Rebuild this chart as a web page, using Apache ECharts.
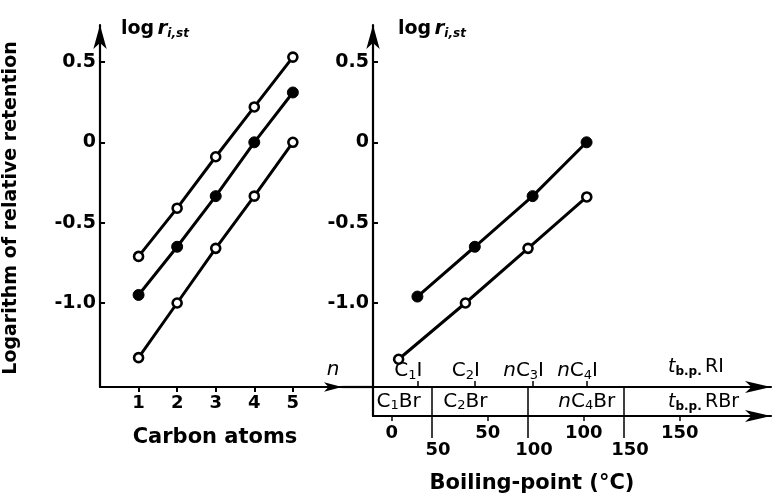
<!DOCTYPE html>
<html><head><meta charset="utf-8">
<script src="https://cdn.jsdelivr.net/npm/echarts@6/dist/echarts.min.js"></script>
<style>html,body{margin:0;padding:0;background:#fff}#c{width:783px;height:495px}</style>
</head><body><div id="c"></div>
<script>
// ---- data ----
const carbonAtoms = [1, 2, 3, 4, 5];
const logTopOpen = [-0.71, -0.41, -0.09, 0.22, 0.53];
const logMidFilled = [-0.95, -0.65, -0.335, 0.0, 0.31];
const logLowOpen = [-1.34, -1.0, -0.66, -0.335, 0.0];

const iodideNames = ['C1I', 'C2I', 'nC3I', 'nC4I'];
const iodideBp = [42.4, 72.3, 102.4, 130.5];
const iodideLog = [-0.96, -0.65, -0.335, 0.0];

const bromideNames = ['C1Br', 'C2Br', 'nC3Br', 'nC4Br'];
const bromideBp = [3.6, 38.4, 71.0, 101.6];
const bromideLog = [-1.35, -1.0, -0.66, -0.34];

const boxLabelNames = ['C1Br', 'C2Br', 'nC4Br'];
const boxLabelBp = [3.6, 38.4, 101.6];

const yTicks = [-1.0, -0.5, 0, 0.5];
const yTickLabels = ['-1.0', '-0.5', '0', '0.5'];
const nTicks = [1, 2, 3, 4, 5];
const nTickLabels = ['1', '2', '3', '4', '5'];
const rbrTicks = [0, 50, 100, 150];
const rbrTickLabels = ['0', '50', '100', '150'];
const riTicks = [50, 100, 150];
const riTickLabels = ['50', '100', '150'];

// ---- helpers ----
const FONT = 'DejaVu Sans';
function chem(name) {
  let out = '';
  for (const ch of name) {
    if (ch === 'n') out += '{i|n}';
    else if (/[0-9]/.test(ch)) out += '{s|' + ch + '}';
    else out += '{m|' + ch + '}';
  }
  return out;
}
const chemRich = {
  m: {fontFamily: FONT, fontSize: 20, color: '#000', lineHeight: 22},
  i: {fontFamily: FONT, fontSize: 20, fontStyle: 'italic', color: '#000', lineHeight: 22},
  s: {fontFamily: FONT, fontSize: 13, color: '#000', lineHeight: 11, verticalAlign: 'bottom'}
};
const pick = (vals, labels) => v => {
  const k = vals.findIndex(t => Math.abs(t - v) < 1e-6);
  return k >= 0 ? labels[k] : '';
};
const zip = (xs, ys) => xs.map((x, i) => [x, ys[i]]);

const yMin = -1.5227, yMax = 0.7299;
const riMin = 19.27, riMax = 226.56;
const rbMin = -9.74, rbMax = 197.55;

const black = '#000';
const axisLineBase = {show: true, onZero: false, lineStyle: {color: black, width: 2.2}};
const numLabel = {color: black, fontFamily: FONT, fontWeight: 'bold', fontSize: 18};

function yAxisFor(gridIndex) {
  return {
    type: 'value', gridIndex, min: yMin, max: yMax,
    axisLine: Object.assign({}, axisLineBase, {symbol: ['none', 'arrow'], symbolSize: [10, 24]}),
    axisTick: {show: true, inside: true, length: 5, customValues: yTicks, lineStyle: {color: black, width: 2}},
    axisLabel: {show: true, customValues: yTicks, formatter: pick(yTicks, yTickLabels), margin: 4,
      color: black, fontFamily: FONT, fontWeight: 'bold', fontSize: 19},
    splitLine: {show: false}
  };
}

const openSym = {color: '#fff', borderColor: black, borderWidth: 2.6};
const fillSym = {color: black, borderColor: black, borderWidth: 1};
const lineStyle = {color: black, width: 3};

const logRich = {
  b: {fontFamily: FONT, fontWeight: 'bold', fontSize: 19, fill: black, lineHeight: 22},
  r: {fontFamily: FONT, fontStyle: 'italic', fontWeight: 'bold', fontSize: 20, fill: black, lineHeight: 22},
  s: {fontFamily: FONT, fontStyle: 'italic', fontWeight: 'bold', fontSize: 12, fill: black, lineHeight: 10, verticalAlign: 'bottom'}
};
const tbpRich = {
  t: {fontFamily: FONT, fontStyle: 'italic', fontSize: 19, fill: black, lineHeight: 22},
  s: {fontFamily: FONT, fontWeight: 'bold', fontSize: 12, fill: black, lineHeight: 10, verticalAlign: 'bottom'},
  m: {fontFamily: FONT, fontSize: 19, fill: black, lineHeight: 22}
};

const option = {
  animation: false,
  backgroundColor: '#fff',
  grid: [
    {left: 100, top: 25, width: 242, height: 362},
    {left: 373, top: 25, width: 398, height: 362},
    {left: 373, top: 387, width: 398, height: 29}
  ],
  xAxis: [
    { // 0: carbon atoms
      type: 'value', gridIndex: 0, min: 0, max: 6.274, position: 'bottom',
      axisLine: Object.assign({}, axisLineBase, {symbol: ['none', 'arrow'], symbolSize: [7, 18]}),
      axisTick: {show: true, length: 5, customValues: nTicks, lineStyle: {color: black, width: 2}},
      axisLabel: Object.assign({customValues: nTicks, formatter: pick(nTicks, nTickLabels), margin: 7}, numLabel),
      splitLine: {show: false}
    },
    { // 1: t_b.p. RI scale (upper right axis)
      type: 'value', gridIndex: 1, min: riMin, max: riMax, position: 'bottom',
      axisLine: Object.assign({}, axisLineBase, {symbol: ['none', 'arrow'], symbolSize: [9, 26]}),
      axisTick: {show: true, inside: true, length: 6, customValues: iodideBp, lineStyle: {color: black, width: 1.5}},
      axisLabel: {show: true, inside: true, margin: 5, customValues: iodideBp,
        formatter: v => chem(pick(iodideBp, iodideNames)(v)), rich: chemRich, padding: [0, 18, 0, 0]},
      splitLine: {show: false}
    },
    { // 2: hidden RBr scale for the bromide points
      type: 'value', gridIndex: 1, min: rbMin, max: rbMax, position: 'top', show: false
    },
    { // 3: RI scale ticks (50/100/150) crossing the label box
      type: 'value', gridIndex: 2, min: riMin, max: riMax, position: 'top',
      axisLine: {show: false, onZero: false},
      axisTick: {show: true, inside: true, length: 51, customValues: riTicks, lineStyle: {color: black, width: 1.5}},
      axisLabel: Object.assign({inside: true, margin: 54, customValues: riTicks, formatter: pick(riTicks, riTickLabels),
        padding: [0, 0, 0, 12]}, numLabel),
      splitLine: {show: false}
    },
    { // 4: t_b.p. RBr scale (lower axis)
      type: 'value', gridIndex: 2, min: rbMin, max: rbMax, position: 'bottom',
      axisLine: Object.assign({}, axisLineBase, {symbol: ['none', 'arrow'], symbolSize: [9, 26]}),
      axisTick: {show: true, length: 5, customValues: rbrTicks, lineStyle: {color: black, width: 1.5}},
      axisLabel: Object.assign({customValues: rbrTicks, formatter: pick(rbrTicks, rbrTickLabels), margin: 8}, numLabel),
      splitLine: {show: false}
    }
  ],
  yAxis: [
    yAxisFor(0),
    yAxisFor(1),
    {type: 'value', gridIndex: 2, min: 0, max: 1,
      axisLine: {show: true, onZero: false, lineStyle: {color: black, width: 2.2}},
      axisTick: {show: false}, axisLabel: {show: false}, splitLine: {show: false}}
  ],
  series: [
    {type: 'line', xAxisIndex: 0, yAxisIndex: 0, data: zip(carbonAtoms, logTopOpen),
      symbol: 'circle', symbolSize: 9, itemStyle: openSym, lineStyle, z: 3},
    {type: 'line', xAxisIndex: 0, yAxisIndex: 0, data: zip(carbonAtoms, logMidFilled),
      symbol: 'circle', symbolSize: 11, itemStyle: fillSym, lineStyle, z: 3},
    {type: 'line', xAxisIndex: 0, yAxisIndex: 0, data: zip(carbonAtoms, logLowOpen),
      symbol: 'circle', symbolSize: 9, itemStyle: openSym, lineStyle, z: 3},
    {type: 'line', name: 'iodides', xAxisIndex: 1, yAxisIndex: 1, data: zip(iodideBp, iodideLog),
      symbol: 'circle', symbolSize: 11, itemStyle: fillSym, lineStyle, z: 3},
    {type: 'line', name: 'bromides', xAxisIndex: 2, yAxisIndex: 1, data: zip(bromideBp, bromideLog),
      symbol: 'circle', symbolSize: 9, itemStyle: openSym, lineStyle, z: 3},
    {type: 'scatter', xAxisIndex: 4, yAxisIndex: 2, z: 5,
      data: boxLabelBp.map((b, i) => ({value: [b, 0.5], name: boxLabelNames[i]})),
      symbolSize: 2, itemStyle: {color: 'rgba(0,0,0,0)'},
      label: {show: true, position: 'inside', formatter: p => chem(p.name), rich: chemRich, opacity: 1}}
  ],
  graphic: [
    {type: 'line', shape: {x1: 342, y1: 387, x2: 373, y2: 387}, style: {stroke: black, lineWidth: 2.2}},
    {type: 'text', x: 11, y: 208, rotation: Math.PI / 2,
      style: {text: 'Logarithm of relative retention', fill: black, font: 'bold 19px "DejaVu Sans"',
        align: 'center', verticalAlign: 'middle'}},
    {type: 'text', x: 121, y: 29, style: {text: '{b|log} {r|r}{s|i,st}', align: 'left', verticalAlign: 'middle', rich: logRich}},
    {type: 'text', x: 398, y: 29, style: {text: '{b|log} {r|r}{s|i,st}', align: 'left', verticalAlign: 'middle', rich: logRich}},
    {type: 'text', x: 333, y: 370,
      style: {text: 'n', fill: black, font: 'italic 20px "DejaVu Sans"', align: 'center', verticalAlign: 'middle'}},
    {type: 'text', x: 668, y: 367, style: {text: '{t|t}{s|b.p.} {m|RI}', align: 'left', verticalAlign: 'middle', rich: tbpRich}},
    {type: 'text', x: 668, y: 402, style: {text: '{t|t}{s|b.p.} {m|RBr}', align: 'left', verticalAlign: 'middle', rich: tbpRich}},
    {type: 'text', x: 215, y: 438,
      style: {text: 'Carbon atoms', fill: black, font: 'bold 21px "DejaVu Sans"', align: 'center', verticalAlign: 'middle'}},
    {type: 'text', x: 532, y: 484,
      style: {text: 'Boiling-point (°C)', fill: black, font: 'bold 21px "DejaVu Sans"', align: 'center', verticalAlign: 'middle'}}
  ]
};

const chart = echarts.init(document.getElementById('c'), null, {renderer: 'canvas'});
chart.setOption(option);
</script>
</body></html>
